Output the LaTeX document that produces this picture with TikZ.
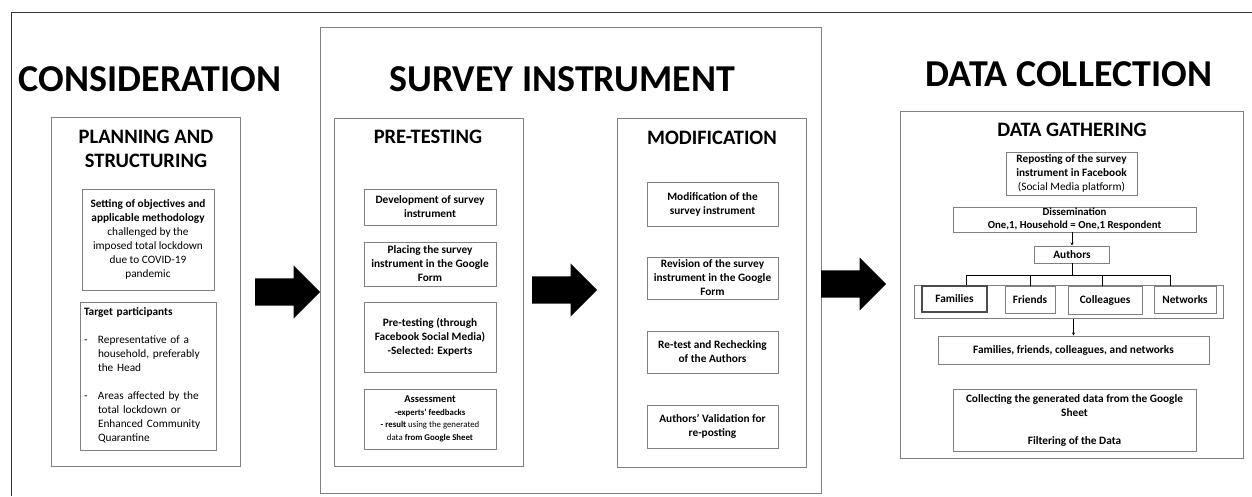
\documentclass[tikz,border=0pt]{standalone}
\usepackage{fontspec}
\setmainfont{Carlito}
\usetikzlibrary{shapes.arrows,positioning}
\tikzset{frame/.style={draw=black!50,line width=0.9pt,inner sep=0pt},
  box/.style={draw=black!50,line width=0.9pt,align=center,inner sep=1pt,font=\fontsize{11.3}{14}\selectfont},
  bbox/.style={box,font=\bfseries\fontsize{11.3}{14}\selectfont},
  bighead/.style={font=\bfseries\fontsize{38}{40}\selectfont},
  head/.style={font=\bfseries\fontsize{20.5}{24}\selectfont,align=center},
  blockarrow/.style={single arrow,fill=black,anchor=tail,inner xsep=0pt,inner ysep=13.5pt,minimum height=65,minimum width=53,single arrow head extend=13}}

\begin{document}
\begin{tikzpicture}[x=1pt,y=-1pt,>=stealth]
        \useasboundingbox (0,0) rectangle (1252,496);
        \draw[black!80,line width=0.9pt] (1252,12) -- (11,12) -- (11,496);

        % consideration
        \node[bighead] (cons) at (150,79) {CONSIDERATION};
        \node[frame,minimum width=189,minimum height=349] (plan) at (145.5,291.5) {};
        \node[head] (plantitle) at (146,149) {PLANNING AND\\STRUCTURING};
        \node[box,minimum width=132,minimum height=101] (obj) at (148,239.5) {\textbf{Setting of objectives and}\\\textbf{applicable methodology}\\challenged by the\\imposed total lockdown\\due to COVID-19\\pandemic};
        \node[box,align=left,text width=128,inner sep=4,minimum height=146] (target) at (148,376) {\begin{tabular}{@{}p{14pt}@{}l@{}}
            \multicolumn{2}{@{}l@{}}{\textbf{Target participants}}\\[14pt]
            - & Representative of a\\
              & household, preferably\\
              & the Head\\[14pt]
            - & Areas affected by the\\
              & total lockdown or\\
              & Enhanced Community\\
              & Quarantine
          \end{tabular}};

        % survey instrument
        \node[frame,minimum width=501,minimum height=466] (survey) at (570.5,260) {};
        \node[bighead] (surtitle) at (562,79) {SURVEY INSTRUMENT};
        \node[frame,minimum width=189,minimum height=348] (pre) at (428.5,292) {};
        \node[head] (pretitle) at (428,137) {PRE-TESTING};
        \node[bbox,minimum width=132,minimum height=36] (dev) at (430,207) {Development of survey\\instrument};
        \node[bbox,minimum width=132,minimum height=44] (place) at (430,264) {Placing the survey\\instrument in the Google\\Form};
        \node[bbox,minimum width=132,minimum height=70] (pretest) at (430,337) {Pre-testing (through\\Facebook Social Media)\\-Selected: Experts};
        \node[box,font=\fontsize{8.8}{12.5}\selectfont,minimum width=132,minimum height=60] (assess) at (430,419) {\textbf{\fontsize{10.5}{12.5}\selectfont Assessment}\\\textbf{-experts' feedbacks}\\\textbf{- result} using the generated\\data \textbf{from Google Sheet}};

        \node[frame,minimum width=189,minimum height=349] (mod) at (711.5,292.5) {};
        \node[head] (modtitle) at (712,138) {MODIFICATION};
        \node[bbox,minimum width=131,minimum height=44] (modi) at (712.5,204) {Modification of the\\survey instrument};
        \node[bbox,minimum width=131,minimum height=42] (revis) at (712.5,278) {Revision of the survey\\instrument in the Google\\Form};
        \node[bbox,minimum width=131,minimum height=42] (retest) at (712.5,352) {Re-test and Rechecking\\of the Authors};
        \node[bbox,minimum width=131,minimum height=43] (valid) at (712.5,426.5) {Authors' Validation for\\re-posting};

        % data collection
        \node[bighead] (coltitle) at (1069,74) {DATA COLLECTION};
        \node[frame,minimum width=343,minimum height=347] (gather) at (1071.5,284.5) {};
        \node[head] (gathtitle) at (1072,130) {DATA GATHERING};
        \node[bbox,inner sep=0.5pt,minimum width=131,minimum height=43] (repost) at (1071.5,173.5) {Reposting of the survey\\instrument in Facebook\\\mdseries(Social Media platform)};
        \node[bbox,font=\bfseries\fontsize{10.8}{13}\selectfont,inner sep=0pt,minimum width=243,minimum height=25] (dissem) at (1074.5,219.5) {Dissemination\\One,1, Household = One,1 Respondent};
        \node[bbox,inner sep=0pt,minimum width=75,minimum height=17] (auth) at (1072,254.5) {Authors};
        \node[frame,minimum width=309,minimum height=33] (group) at (1068.5,302) {};
        \node[bbox,draw=black!70,line width=1.2pt,minimum width=65,minimum height=26] (fam) at (954.5,299) {Families};
        \node[bbox,minimum width=50,minimum height=27] (fri) at (1030,299.5) {Friends};
        \node[bbox,minimum width=74,minimum height=28] (col) at (1105,300) {Colleagues};
        \node[bbox,minimum width=62,minimum height=27] (net) at (1185,299.5) {Networks};
        \node[bbox,minimum width=271,minimum height=28] (allnet) at (1073.5,350) {Families, friends, colleagues, and networks};
        \node[bbox,minimum width=243,minimum height=62] (collect) at (1074.5,420) {Collecting the generated data from the Google\\Sheet\\ \\Filtering of the Data};

        \coordinate (bus) at (1072,275);
        \draw [->] (dissem.south -| auth) to (auth);
        \draw [line width=0.9pt] (auth) to (bus);
        \draw [line width=0.9pt] (bus) -| ([xshift=11.5]fam.north);
        \draw [line width=0.9pt] (bus) -| (fri.north);
        \draw [line width=0.9pt] (bus) -| ([xshift=-3]col.north);
        \draw [line width=0.9pt] (bus) -| ([xshift=-15]net.north);
        \draw [->] (group.south -| allnet) to (allnet);

        % big arrows
        \node[blockarrow] (arr1) at (255,292) {};
        \node[blockarrow] (arr2) at (532,290) {};
        \node[blockarrow] (arr3) at (821,284) {};
    \end{tikzpicture}
\end{document}
